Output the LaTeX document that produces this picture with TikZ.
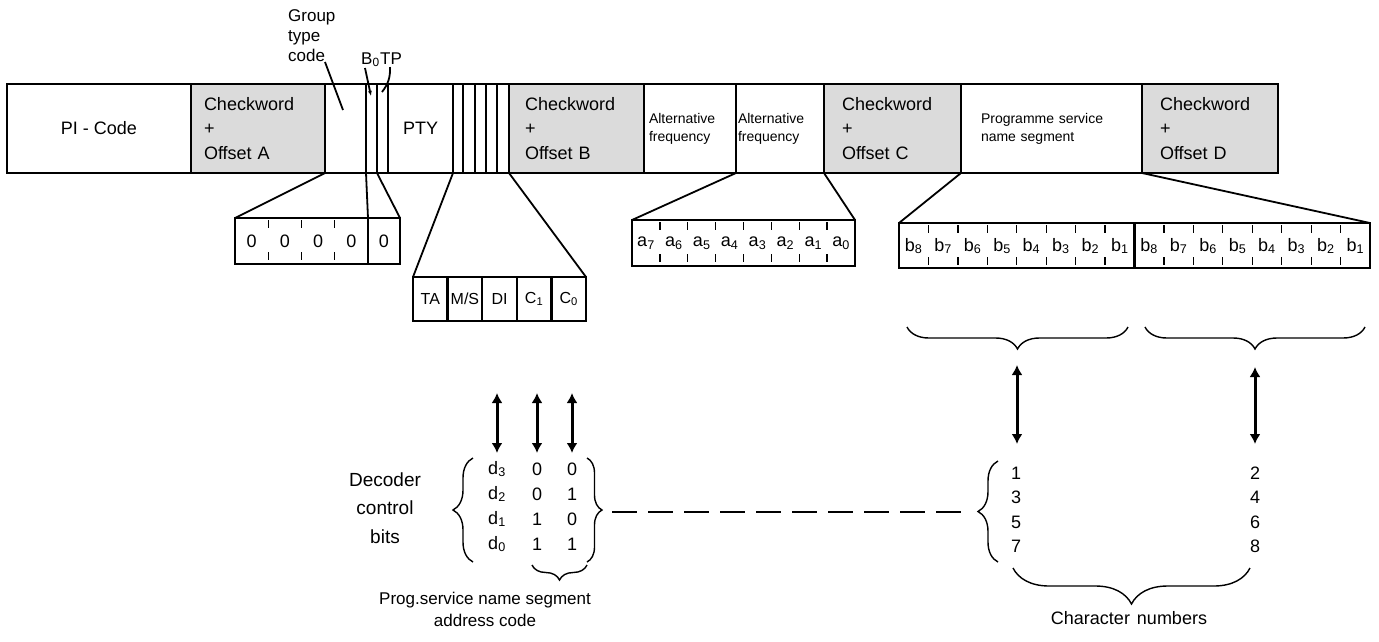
\documentclass[tikz,border=0pt]{standalone}
\usepackage{fontspec}
\setmainfont{Liberation Sans}
\usetikzlibrary{arrows.meta,decorations.pathreplacing}

\newcommand{\gross}{\fontsize{18}{24.5}\selectfont}
\newcommand{\mittel}{\fontsize{16}{20}\selectfont}
\newcommand{\klein}{\fontsize{14}{18}\selectfont}

\begin{document}
\begin{tikzpicture}[x=1pt, y=-1pt,
			feld/.style={draw, line width=2pt, inner sep=0pt, outer sep=0pt, anchor=north west, minimum height=89},
			pruef/.style={feld, fill=black!14, align=left},
			bitbox/.style={draw, line width=2.4pt, inner sep=0pt, outer sep=0pt, anchor=north west},
			trenn/.style={line width=1.3pt, dash pattern=on 8pt off 24pt},
			zoomline/.style={line width=1.8pt},
			klammer/.style={decorate, decoration={brace, amplitude=#1}, line width=1.4pt},
			klammerm/.style={klammer=#1, decoration={mirror}},
			pfeil/.style={<->, line width=3pt},
			strich/.style={line width=2pt, dash pattern=on 25pt off 11pt},
			>={Latex[length=10pt,width=11pt]},   %Pfeilspitzen
			font=\gross]
			%Rahmen
			\fill[white] (0,0) rectangle (1379,641);
			\useasboundingbox (0,0) rectangle (1379,641);
			% Gruppe: Felder
			\node[feld, minimum width=184] (pi) at (7,84) {PI - Code};
			\node[pruef, minimum width=134, text width=108pt] (cwa) at (191,84) {Checkword\\+\\Offset A};
			\node[feld, minimum width=41] (gt) at (325,84) {};
			\node[feld, minimum width=11] (bnull) at (366,84) {};
			\node[feld, minimum width=11] (tp) at (377,84) {};
			\node[feld, minimum width=65] (pty) at (388,84) {PTY};
			\foreach \n/\x/\w in {ta/453/10, ms/463/12, di/475/11, ca/486/11, cb/497/12}
				\node[feld, minimum width=\w] (\n) at (\x,84) {};
			\node[pruef, minimum width=135, text width=103pt] (cwb) at (509,84) {Checkword\\+\\Offset B};
			\node[feld, minimum width=92, text width=82pt, align=left, font=\klein] (afa) at (644,84) {Alternative\\frequency};
			\node[feld, minimum width=88, text width=84pt, align=left, font=\klein] (afb) at (736,84) {Alternative\\frequency};
			\node[pruef, minimum width=137, text width=101pt] (cwc) at (824,84) {Checkword\\+\\Offset C};
			\node[feld, minimum width=181, text width=141pt, align=left, font=\klein] (ps) at (961,84) {Programme service\\name segment};
			\node[pruef, minimum width=136, text width=100pt] (cwd) at (1142,84) {Checkword\\+\\Offset D};
			% Beschriftung oben
			\node[align=left, anchor=north west, inner sep=0pt, font=\fontsize{17}{20}\selectfont] (gtl) at (288,9) {Group\\type\\code};
			\node[anchor=base west, inner sep=0pt, font=\fontsize{17}{20}\selectfont] (bl) at (361,64) {B\textsubscript{0}};
			\node[anchor=base west, inner sep=0pt, font=\fontsize{17}{20}\selectfont] (tpl) at (380,64) {TP};
			\coordinate (gta) at (325,62);  \coordinate (gtz) at (343,110);
			\coordinate (bla) at (365,68);  \coordinate (blz) at (371,96);
			\coordinate (tpa) at (390,67);  \coordinate (tpz) at (382,92);
			\draw[zoomline] (gta) -- (gtz);
			\draw[zoomline, -{Latex[length=5pt,width=4pt]}] (bla) -- (blz);
			\draw[zoomline] (tpa) to[bend left=20] (tpz);
			% Gruppentyp aufgeklappt
			\node[bitbox, minimum width=133, minimum height=46] (gtx) at (235,218) {};
			\node[bitbox, minimum width=32, minimum height=46] (bx) at (368,218) {0};
			\foreach \i in {1,2,3} \draw[trenn] ({235+33.25*\i},220) -- ++(0,44);
			\foreach \i in {0,...,3} \node (g\i) at ({251.6+33.25*\i},241) {0};
			\draw[zoomline] (cwa.south east) -- (gtx.north west);
			\draw[zoomline] (bnull.south west) -- (bx.north west);
			\draw[zoomline] (tp.south west) -- (bx.north east);
			% TA, M/S, DI, C1, C0
			\foreach \n/\t [count=\i from 0] in {xta/TA, xms/M\slash S, xdi/DI, xca/C\textsubscript{1}, xcb/C\textsubscript{0}}
				\node[bitbox, minimum width=34.6, minimum height=44, font=\mittel] (\n) at ({413+34.6*\i},277) {\t};
			\draw[zoomline] (ta.south west) -- (xta.north west);
			\draw[zoomline] (cb.south east) -- (xcb.north east);
			% Alternative frequency aufgeklappt
			\node[bitbox, minimum width=223, minimum height=46] (afx) at (632,220) {};
			\foreach \i in {1,...,7} \draw[trenn] ({632+27.875*\i},222) -- ++(0,44);
			\foreach \b [count=\i from 0] in {7,6,5,4,3,2,1,0}
				\node (a\b) at ({646+27.875*\i},243) {a\textsubscript{\b}};
			\draw[zoomline] (afb.south west) -- (afx.north west);
			\draw[zoomline] (afb.south east) -- (afx.north east);
			% Programme service name aufgeklappt
			\node[bitbox, minimum width=235.5, minimum height=45] (psa) at (899,223) {};
			\node[bitbox, minimum width=235.5, minimum height=45] (psb) at (1134.5,223) {};
			\foreach \i in {1,...,7} {
				\draw[trenn] ({899+29.44*\i},225) -- ++(0,43);
				\draw[trenn] ({1134.5+29.44*\i},225) -- ++(0,43);
			}
			\foreach \b [count=\i from 0] in {8,7,6,5,4,3,2,1} {
				\node (ba\b) at ({913.7+29.44*\i},246) {b\textsubscript{\b}};
				\node (bb\b) at ({1149.2+29.44*\i},246) {b\textsubscript{\b}};
			}
			\draw[zoomline] (ps.south west) -- (psa.north west);
			\draw[zoomline] (ps.south east) -- (psb.north east);
			% Klammern und Pfeile rechts
			\draw[klammerm=22] (907,327) -- (1128,327);
			\draw[klammerm=22] (1145,327) -- (1365,327);
			\coordinate (po1) at (1017,365);  \coordinate (pu1) at (1017,444);
			\coordinate (po2) at (1255,367);  \coordinate (pu2) at (1255,444);
			\draw[pfeil] (po1) -- (pu1);
			\draw[pfeil] (po2) -- (pu2);
			\node[align=center] (nl) at (1016,510) {1\\3\\5\\7};
			\node[align=center] (nr) at (1255,510) {2\\4\\6\\8};
			\draw[klammer=20] (998,562) -- (998,461);
			\draw[klammerm=36] (1013,568) -- (1250,568);
			\node (cn) at (1129,618) {Character\hspace{7pt}numbers};
			% Decoder control bits
			\node[align=center, font=\fontsize{19}{28.5}\selectfont] (dcb) at (385,508) {Decoder\\control\\bits};
			\foreach \d/\p/\q [count=\i from 0] in {3/0/0, 2/0/1, 1/1/0, 0/1/1} {
				\node (md\d) at (497,{469+25*\i}) {d\textsubscript{\d}};
				\node (mp\d) at (537,{469+25*\i}) {\p};
				\node (mq\d) at (572,{469+25*\i}) {\q};
			}
			\foreach \x [count=\i] in {497,537,572} {
				\coordinate (mo\i) at (\x,393);  \coordinate (mu\i) at (\x,453);
				\draw[pfeil] (mo\i) -- (mu\i);
			}
			\draw[klammer=20] (473,562) -- (473,458);
			\draw[klammer=15] (587,458) -- (587,562);
			\draw[klammerm=15] (532,565) -- (587,565);
			\node[align=center, font=\fontsize{17}{22}\selectfont] (psn) at (485,609) {Prog.service name segment\\address code};
			% gestrichelte Verbindung
			\coordinate (ml) at (612,512);  \coordinate (nk) at (968,512);
			\draw[strich] (ml) -- (nk);
		\end{tikzpicture}
\end{document}
